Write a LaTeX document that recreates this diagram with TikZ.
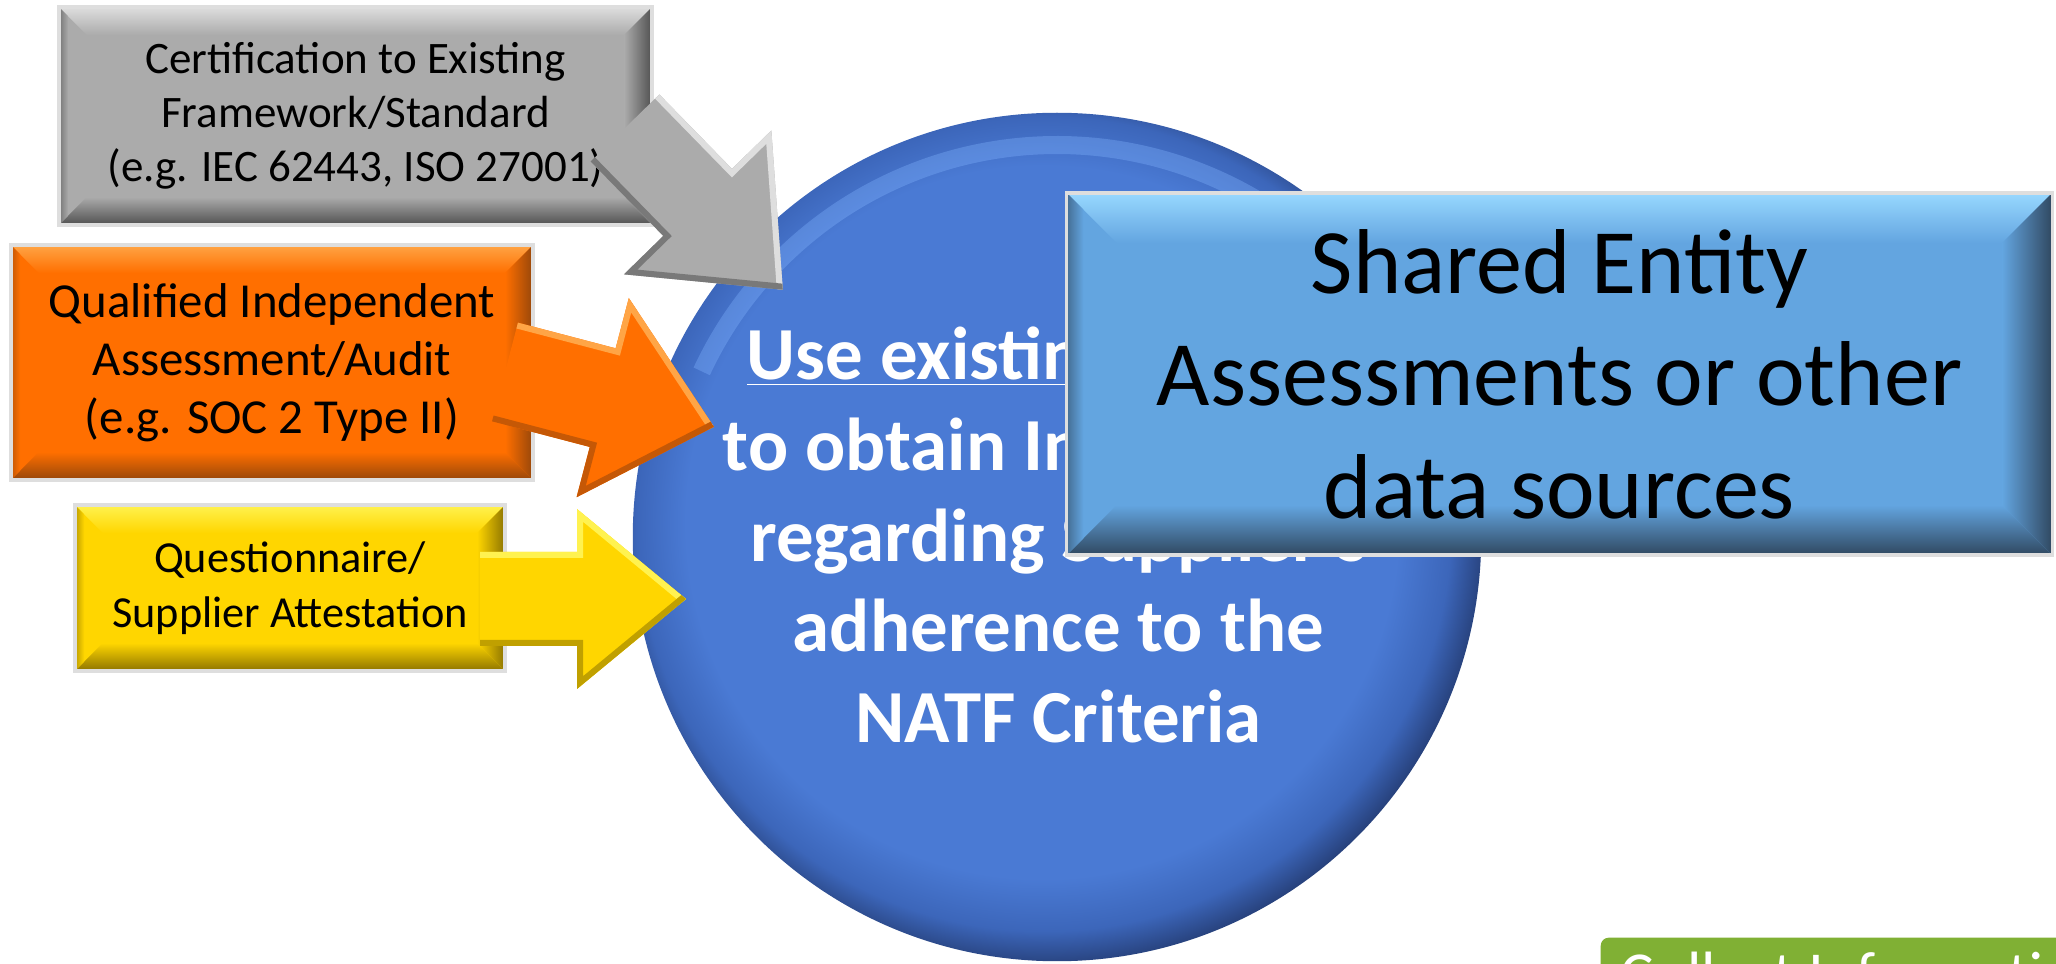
\documentclass[tikz,border=0pt]{standalone}
\usepackage{fontspec}
\setmainfont{Carlito}
\usetikzlibrary{calc}

% colours
\definecolor{certmain}{RGB}{171,171,171}
\definecolor{certlight}{RGB}{222,222,222}
\definecolor{certdark}{RGB}{80,80,80}
\definecolor{auditmain}{RGB}{255,111,0}
\definecolor{auditlight}{RGB}{255,165,70}
\definecolor{auditdark}{RGB}{150,70,10}
\definecolor{questmain}{RGB}{255,214,0}
\definecolor{questlight}{RGB}{255,242,80}
\definecolor{questdark}{RGB}{140,115,0}
\definecolor{sharedmain}{RGB}{99,165,224}
\definecolor{sharedlight}{RGB}{152,216,255}
\definecolor{shareddark}{RGB}{48,72,96}
\definecolor{ballmain}{RGB}{74,122,212}
\definecolor{ballmid}{RGB}{60,102,186}
\definecolor{balledge}{RGB}{34,56,108}
\definecolor{ballhi}{RGB}{130,180,255}
\definecolor{collectgreen}{RGB}{128,176,52}

\pgfdeclareradialshading{ballrim}{\pgfpoint{-1.5bp}{1.5bp}}{color(0bp)=(ballmain); color(21bp)=(ballmain); color(24bp)=(ballmid); color(26.5bp)=(balledge); color(50bp)=(balledge)}

\tikzset{
  bevelbox/.style 2 args={fill=#1main, draw=black!13, line width=1pt, inner sep=0pt, align=center,
    path picture={
      \coordinate (bnw) at (path picture bounding box.north west);
      \coordinate (bne) at (path picture bounding box.north east);
      \coordinate (bsw) at (path picture bounding box.south west);
      \coordinate (bse) at (path picture bounding box.south east);
      \shade[top color=#1light, bottom color=#1main] (bnw) -- (bne) -- ($(bne)+(-#2,#2)$) -- ($(bnw)+(#2,#2)$) -- cycle;
      \shade[top color=#1main, bottom color=#1dark] ($(bsw)+(#2,-#2)$) -- ($(bse)+(-#2,-#2)$) -- (bse) -- (bsw) -- cycle;
      \shade[left color=#1main, right color=#1dark] ($(bne)+(-#2,#2)$) -- (bne) -- (bse) -- ($(bse)+(-#2,-#2)$) -- cycle;
      \shade[left color=#1dark!60!#1main, right color=#1main] (bnw) -- ($(bnw)+(#2/3,#2/3)$) -- ($(bsw)+(#2/3,-#2/3)$) -- (bsw) -- cycle;
    }},
  balltext/.style={text=white, align=center, font=\bfseries\fontsize{21.3}{25.8}\selectfont},
}

% block arrow: colour, tail, angle, body length, length, half body, half head
\newcommand{\blockarrow}[7]{%
  \begin{scope}[shift={#2}, rotate=#3]
    \fill[#1main] (0,-#6) -- (#4,-#6) -- (#4,-#7) -- (#5,0) -- (#4,#7) -- (#4,#6) -- (0,#6) -- cycle;
    \begin{scope}
      \clip (0,-#6) -- (#4,-#6) -- (#4,-#7) -- (#5,0) -- (#4,#7) -- (#4,#6) -- (0,#6) -- cycle;
      \draw[#1light, line width=0.12cm] (0,-#6) -- (#4,-#6) -- (#4,-#7) -- (#5,0);
      \draw[#1dark!55!#1main, line width=0.12cm] (#5,0) -- (#4,#7) -- (#4,#6) -- (0,#6);
    \end{scope}
  \end{scope}}

\begin{document}
\begin{tikzpicture}[x=0.01cm, y=-0.01cm]
  \useasboundingbox (0,0) rectangle (2056,964);
  \clip (0,0) rectangle (2056,964);

  % the ball in the middle
  \node[circle, minimum size=8.48cm, inner sep=0pt, shade, shading=ballrim] (ball) at (1057,537) {};
  \draw[ballhi, line width=0.18cm, opacity=0.35] ($(ball.center)+(205:392)$) arc[start angle=205, end angle=320, radius=392];
  \node[balltext] (usetext) at (1058.5,561.5)
    {\underline{\smash{Use existing sources}}\\to obtain Information\\regarding Supplier's\\adherence to the\\NATF Criteria};

  % sources on the left
  \node[bevelbox={cert}{28}, minimum width=5.93cm, minimum height=2.18cm, font=\fontsize{12.8}{15.4}\selectfont] (cert) at (355.5,116)
    {Certification to Existing\\Framework/Standard\\(e.g. IEC 62443, ISO 27001)};
  \node[bevelbox={audit}{28}, minimum width=5.22cm, minimum height=2.35cm, font=\fontsize{13.9}{16.5}\selectfont] (audit) at (272,362.5)
    {Qualified Independent\\Assessment/Audit\\(e.g. SOC 2 Type II)};
  \node[bevelbox={quest}{28}, minimum width=4.30cm, minimum height=1.66cm, font=\fontsize{12.6}{15.6}\selectfont] (quest) at (290,588)
    {Questionnaire/\\Supplier Attestation};

  % arrows into the ball
  \blockarrow{cert}{(625,128)}{-45.7}{104}{226}{48}{103}
  \blockarrow{audit}{(505,372)}{-14.7}{101}{216}{51}{103}
  \blockarrow{quest}{(480,599)}{0}{97}{206}{47}{90}

  % shared entity box on top
  \node[bevelbox={shared}{50}, minimum width=9.85cm, minimum height=3.62cm, font=\fontsize{26.2}{32}\selectfont] (shared) at (1559.5,374)
    {Shared Entity\\Assessments or other\\data sources};

  % next step, cut off at the bottom
  \node[fill=collectgreen, rounded corners=0.08cm, anchor=north west, text=white, align=left,
        font=\fontsize{17.8}{21}\selectfont, inner xsep=0.2cm, inner ysep=0.14cm, minimum width=5cm] (collect) at (1600,937)
    {Collect Information};
\end{tikzpicture}
\end{document}
